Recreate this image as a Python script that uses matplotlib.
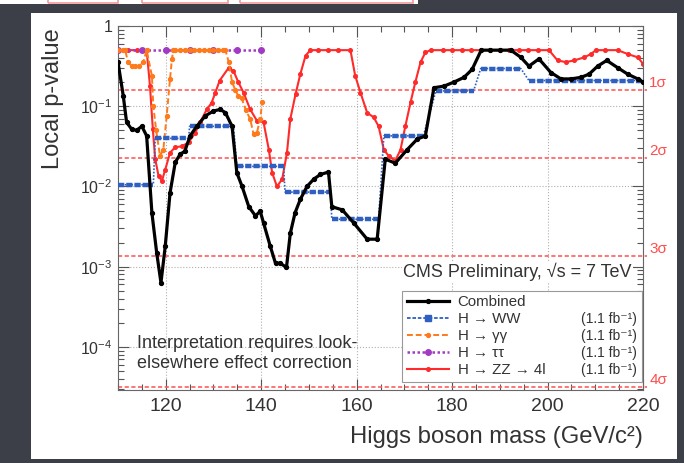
import numpy as np
import matplotlib
matplotlib.use('Agg')
import matplotlib.pyplot as plt
from matplotlib.patches import Rectangle
from matplotlib.lines import Line2D
from matplotlib.ticker import MultipleLocator, LogLocator, FuncFormatter, NullFormatter

plt.rcParams['font.family'] = ['Liberation Sans', 'DejaVu Sans']
plt.rcParams['mathtext.fontset'] = 'custom'
plt.rcParams['mathtext.rm'] = 'Liberation Sans'
plt.rcParams['mathtext.it'] = 'Liberation Sans:italic'

# --- data (mass in GeV, local p-value) ---
comb_mass = [110.0, 111.1, 111.8, 112.9, 113.9, 115.0, 116.0, 117.1, 118.1, 119.0,
             119.9, 120.9, 122.0, 123.0, 124.0, 125.1, 126.5, 128.3, 130.0, 131.4,
             132.5, 133.9, 134.9, 136.0, 137.4, 138.8, 139.8, 140.5, 141.9, 143.0,
             144.0, 145.3, 146.1, 147.1, 148.2, 149.6, 151.0, 152.4, 154.1, 154.8,
             157.0, 159.4, 162.2, 164.3, 166.0, 168.1, 170.6, 172.7, 174.4, 176.2,
             178.3, 180.4, 182.5, 184.2, 186.1, 188.0, 190.0, 192.3, 194.4, 196.1,
             198.2, 200.7, 202.8, 204.9, 207.0, 208.7, 210.5, 212.4, 214.7, 216.8,
             218.9, 220.0]
comb_p = [0.355, 0.135, 0.0631, 0.0513, 0.0501, 0.0562, 0.0427, 0.0047, 0.0015, 0.00063,
          0.0018, 0.0083, 0.0200, 0.0251, 0.0275, 0.0427, 0.0562, 0.0759, 0.0871, 0.0912,
          0.0832, 0.0562, 0.0148, 0.0100, 0.0056, 0.0043, 0.0049, 0.0035, 0.0018, 0.0011,
          0.0011, 0.00098, 0.0026, 0.0047, 0.0069, 0.0100, 0.0123, 0.0141, 0.0151, 0.0056,
          0.0051, 0.0035, 0.0022, 0.0022, 0.0219, 0.0195, 0.0288, 0.0389, 0.0427, 0.170,
          0.178, 0.200, 0.229, 0.288, 0.50, 0.50, 0.50, 0.50, 0.407, 0.316,
          0.389, 0.263, 0.219, 0.219, 0.229, 0.251, 0.316, 0.372, 0.302, 0.251,
          0.219, 0.200]

# H -> WW is a step curve: each plateau given by its first and last mass
ww_mass = [110.0, 117.4, 117.8, 124.8, 125.0, 134.2, 134.9, 144.7, 145.0, 154.5,
           154.8, 164.6, 165.7, 174.0, 176.6, 184.5, 186.0, 194.4, 196.1, 220.0]
ww_p = [0.0105, 0.0105, 0.0398, 0.0398, 0.0562, 0.0562, 0.0178, 0.0178, 0.0085, 0.0085,
        0.0039, 0.0039, 0.0427, 0.0427, 0.155, 0.155, 0.295, 0.295, 0.209, 0.209]

gg_mass = [110.0, 111.0, 111.5, 112.1, 112.9, 113.6, 114.3, 115.3, 116.0, 117.1,
           117.4, 118.0, 118.8, 119.5, 120.2, 120.9, 121.3, 121.6, 122, 123,
           124, 125, 126, 127, 128, 129, 130, 131, 132, 132.5,
           133.2, 133.9, 134.6, 135.2, 135.9, 136.8, 137.7, 138.4, 139.1, 139.8, 140.2]
gg_p = [0.50, 0.50, 0.50, 0.355, 0.316, 0.316, 0.316, 0.355, 0.50, 0.240,
        0.100, 0.0501, 0.0240, 0.0288, 0.0759, 0.219, 0.389, 0.50, 0.50, 0.50,
        0.50, 0.50, 0.50, 0.50, 0.50, 0.50, 0.50, 0.50, 0.50, 0.50,
        0.355, 0.200, 0.158, 0.135, 0.126, 0.0891, 0.0692, 0.0447, 0.0468, 0.0692, 0.112]

tt_mass = [110, 115, 120, 125, 130, 135, 140]
tt_p = [0.50, 0.50, 0.50, 0.50, 0.50, 0.50, 0.50]

zz_mass = [110, 112, 114, 116.0, 116.7, 117.3, 117.8, 118.5, 119.2, 119.9,
           120.9, 122.0, 123.4, 124.8, 126.2, 127.2, 128.6, 129.6, 130.4, 131.3,
           133.2, 134.2, 135.2, 136.3, 137.7, 139.1, 140.5, 141.6, 142.3, 143.3,
           144.4, 145.4, 146.1, 147.2, 148.2, 149.3, 150.3, 152, 154, 156,
           158.7, 159.7, 160.8, 162.2, 163.6, 164.6, 165.7, 166.7, 168.1, 169.2,
           170.2, 171.3, 172.3, 173.4, 174.4, 175.5, 178, 180, 182, 184,
           186, 188, 190, 192, 194, 196, 198, 200.3, 202.1, 203.8,
           205.6, 207.7, 209.1, 210.1, 212, 214.7, 216.8, 218.9, 220.0]
zz_p = [0.50, 0.50, 0.50, 0.50, 0.178, 0.0513, 0.0219, 0.0135, 0.0117, 0.0162,
        0.0263, 0.0309, 0.0316, 0.0355, 0.0468, 0.0631, 0.0912, 0.110, 0.148, 0.209,
        0.302, 0.275, 0.200, 0.148, 0.0912, 0.0661, 0.0631, 0.0288, 0.0148, 0.0100,
        0.0123, 0.0263, 0.0692, 0.141, 0.251, 0.427, 0.50, 0.50, 0.50, 0.50,
        0.50, 0.240, 0.148, 0.0832, 0.0724, 0.0562, 0.0288, 0.0240, 0.0209, 0.0288,
        0.0562, 0.112, 0.200, 0.355, 0.468, 0.50, 0.50, 0.50, 0.50, 0.50,
        0.50, 0.50, 0.50, 0.50, 0.50, 0.50, 0.50, 0.50, 0.372, 0.355,
        0.372, 0.407, 0.447, 0.50, 0.50, 0.50, 0.447, 0.407, 0.339]

sigma_p = [1.587e-1, 2.275e-2, 1.35e-3, 3.17e-5]
sigma_labels = ['1σ', '2σ', '3σ', '4σ']

labels = ['Combined', 'H → WW', 'H → γγ', 'H → ττ', 'H → ZZ → 4l']
lumi = '(1.1 fb⁻¹)'

C_WW, C_GG, C_TT, C_ZZ = '#2f5fc0', '#ff7a1a', '#a23bc4', '#ff2a2a'

W, H = 684, 463
fig = plt.figure(figsize=(W / 100, H / 100), dpi=100, facecolor='#3c3f48')

# slide panel and the strip of the slide above it
fig.add_artist(Rectangle((31 / W, 4 / H), 646 / W, 446 / H, transform=fig.transFigure,
                         facecolor='white', edgecolor='none', zorder=-1))
fig.add_artist(Rectangle((0, 1 - 4 / H), 418 / W, 4 / H, transform=fig.transFigure,
                         facecolor='white', edgecolor='none', zorder=-1))
for x0, x1 in [(48, 118), (142, 228), (240, 413)]:
    fig.add_artist(Rectangle((x0 / W, 1 - 3 / H), (x1 - x0) / W, 10 / H, transform=fig.transFigure,
                             facecolor='none', edgecolor='#f29a9a', lw=1.2, zorder=-1))

ax = fig.add_axes([118 / W, 1 - 390 / H, 525 / W, 364 / H])
ax.set_yscale('log')

l_zz, = ax.plot(zz_mass, zz_p, color=C_ZZ, lw=1.5, marker='o', ms=2.6, zorder=2)
l_tt, = ax.plot(tt_mass, tt_p, color=C_TT, lw=1.8, ls=(0, (1, 1)), marker='o', ms=4, zorder=3)
l_gg, = ax.plot(gg_mass, gg_p, color=C_GG, lw=1.4, ls=(0, (3, 1.5)), marker='o', ms=2.8, zorder=4)
# thin dotted risers, thick dashed plateaus
ax.plot(ww_mass, ww_p, color=C_WW, lw=1.2, ls=(0, (1, 1)), zorder=5)
ax.hlines(ww_p[0::2], ww_mass[0::2], ww_mass[1::2], color=C_WW, lw=3.2,
          linestyles=[(0, (1.4, 0.45))], zorder=5)
l_comb, = ax.plot(comb_mass, comb_p, color='black', lw=2.3, marker='o', ms=2.8, zorder=6)
l_ww = Line2D([], [], color=C_WW, lw=1.3, ls=(0, (2, 1)), marker='s', ms=4)

ax.set_xlim(110, 220)
ax.set_ylim(2.9e-5, 1)

for p, lab in zip(sigma_p, sigma_labels):
    ax.axhline(p, xmin=0, xmax=1.008, color='#ff5c5c', lw=1.2, ls=(0, (2.5, 1.5)),
               clip_on=False, zorder=1.5)
    ax.annotate(lab, xy=(1.012, p), xycoords=('axes fraction', 'data'), ha='left', va='bottom',
                color='#ff4d4d', fontsize=11, annotation_clip=False)

ax.xaxis.set_major_locator(MultipleLocator(20))
ax.xaxis.set_minor_locator(MultipleLocator(5))
ax.yaxis.set_major_locator(LogLocator(base=10))
ax.yaxis.set_minor_locator(LogLocator(base=10, subs=np.arange(2, 10)))
ax.yaxis.set_minor_formatter(NullFormatter())
ax.yaxis.set_major_formatter(FuncFormatter(
    lambda v, _: '1' if v >= 1 else r'$10^{%d}$' % round(np.log10(v))))
ax.tick_params(which='both', direction='in', top=True, right=True, colors='#555555', width=0.8)
ax.tick_params(which='major', length=8)
ax.tick_params(which='minor', length=4)
ax.tick_params(axis='x', labelsize=14, labelcolor='#333333', pad=6)
ax.tick_params(axis='y', labelsize=11.5, labelcolor='#333333', pad=4)
for s in ax.spines.values():
    s.set_color('#666666')
    s.set_linewidth(0.8)
ax.set_axisbelow(True)
ax.grid(True, which='major', color='#b0b0b0', ls=':', lw=0.8)

ax.text(0.979, 0.324, 'CMS Preliminary, √s = 7 TeV', transform=ax.transAxes, ha='right',
        va='center', fontsize=13, color='#333333', zorder=12,
        bbox=dict(facecolor='white', edgecolor='none', pad=1))
ax.text(0.036, 0.10, 'Interpretation requires look-\nelsewhere effect correction',
        transform=ax.transAxes, ha='left', va='center', fontsize=13, color='#333333',
        linespacing=1.2, zorder=12)

leg = ax.legend([l_comb, l_ww, l_gg, l_tt, l_zz], labels, loc='lower left',
                bbox_to_anchor=(0.541, 0.022, 0.457, 0.244), mode='expand', numpoints=1,
                fontsize=10.8, handlelength=2.8, labelspacing=0.2, borderpad=0.3,
                handletextpad=0.6, fancybox=False, framealpha=1, edgecolor='#999999',
                borderaxespad=0)
leg.get_frame().set_linewidth(0.8)
leg.set_zorder(15)
for t in leg.get_texts():
    t.set_color('#333333')

fig.canvas.draw()
inv = ax.transAxes.inverted()
for t in leg.get_texts()[1:]:
    bb = t.get_window_extent()
    y = inv.transform(((bb.x0 + bb.x1) / 2, (bb.y0 + bb.y1) / 2))[1]
    ax.text(0.989, y, lumi, transform=ax.transAxes, ha='right', va='center',
            fontsize=10, color='#333333', zorder=20)

fig.text(643 / W, 1 - 443 / H, 'Higgs boson mass (GeV/c²)', ha='right', va='baseline',
         fontsize=17.2, color='#333333')
fig.text(53 / W, 1 - 28 / H, 'Local p-value', rotation=90, ha='center', va='top',
         fontsize=17, color='#333333')

fig.savefig('out.png', dpi=100, facecolor=fig.get_facecolor())
